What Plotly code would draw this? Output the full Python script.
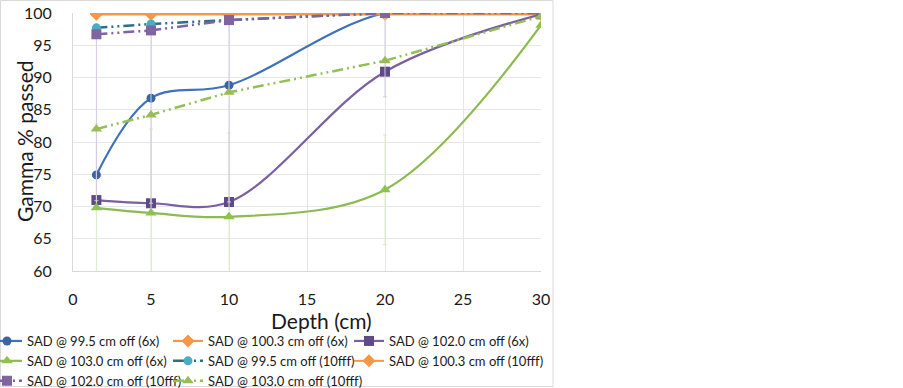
import plotly.graph_objects as go

depth = [1.5, 5, 10, 20, 30]

names = [
    "SAD @ 99.5 cm off (6x)",
    "SAD @ 100.3 cm off (6x)",
    "SAD @ 102.0 cm off (6x)",
    "SAD @ 103.0 cm off (6x)",
    "SAD @ 99.5 cm off (10fff)",
    "SAD @ 100.3 cm off (10fff)",
    "SAD @ 102.0 cm off (10fff)",
    "SAD @ 103.0 cm off (10fff)",
]

sad995_6x = [74.9, 86.8, 88.8, 100.0, 100.0]
sad1003_6x = [99.8, 99.8, 99.8, 99.8, 99.8]
sad1020_6x = [71.0, 70.5, 70.7, 90.9, 99.8]
sad1030_6x = [69.8, 69.0, 68.4, 72.6, 98.1]
sad995_10 = [97.7, 98.3, 98.9, 100.0, 100.0]
sad1003_10 = [99.9, 99.9, 99.9, 99.9, 99.9]
sad1020_10 = [96.7, 97.3, 98.9, 100.0, 100.0]
sad1030_10 = [82.0, 84.2, 87.7, 92.6, 99.5]

err_1030_6x = [13.0, 13.0, 13.0, 8.5, 0.0]
err_1020_10_minus = [25.8, 26.8, 28.2, 13.0, 0.0]
err_zero = [0, 0, 0, 0, 0]

x_title = "Depth (cm)"
y_title = "Gamma % passed"

FONT = "Lato"
TXT = "#1a1a1a"
ldash = "11px,4px,2px,4px,2px,4px"

# plot area in pixels
L, R, T, B = 73, 541, 13, 271
PW, PH = R - L, B - T

def px(xp):
    return (xp - L) / PW

def py(yp):
    return (B - yp) / PH

fig = go.Figure()

def add(name, y, line_color, marker_color, symbol, size, legend,
        dash="solid", shape="spline", width=2.2, err=None):
    tr = go.Scatter(
        x=depth, y=y, name=name, mode="lines+markers", legend=legend,
        line=dict(color=line_color, width=width, dash=dash, shape=shape, smoothing=1.0),
        marker=dict(color=marker_color, symbol=symbol, size=size),
    )
    if err is not None:
        tr.error_y = err
    fig.add_trace(tr)

add(names[0], sad995_6x, "#3F72B8", "#3A65A3", "circle", 9, "legend")
add(names[1], sad1003_6x, "#F79646", "#F79646", "diamond", 10, "legend2")
add(names[2], sad1020_6x, "#7A5FA3", "#5E4A86", "square", 10, "legend3")
add(names[3], sad1030_6x, "#8DBB4F", "#8DC24F", "triangle-up", 10, "legend",
    err=dict(type="data", symmetric=True, array=err_1030_6x,
             color="#DCEBC7", thickness=1, width=2))
add(names[4], sad995_10, "#2A6F8A", "#4BACC6", "circle", 9, "legend2",
    dash=ldash, shape="linear", width=2.5)
add(names[5], sad1003_10, "#F79646", "#F79646", "diamond", 10, "legend3",
    shape="linear", width=2.0)
add(names[6], sad1020_10, "#7F63A6", "#8064A2", "square", 10, "legend",
    dash=ldash, shape="linear", width=2.5,
    err=dict(type="data", symmetric=False, array=err_zero, arrayminus=err_1020_10_minus,
             color="#D3C8E2", thickness=1, width=2))
add(names[7], sad1030_10, "#93BF55", "#9BBB59", "triangle-up", 10, "legend2",
    dash=ldash, shape="linear", width=2.5)

leg_font = dict(family=FONT, size=13, color=TXT)
leg_y = py(326)

def leg(xpix):
    return dict(orientation="v", x=px(xpix), xanchor="left", y=leg_y, yanchor="top",
                font=leg_font, itemwidth=30, traceorder="normal",
                bgcolor="rgba(0,0,0,0)", borderwidth=0)

fig.update_layout(
    width=903, height=388,
    margin=dict(l=L, r=903 - R, t=T, b=388 - B, autoexpand=False),
    paper_bgcolor="white", plot_bgcolor="white",
    font=dict(family=FONT, color=TXT),
    showlegend=True,
    legend=leg(-13),
    legend2=leg(168),
    legend3=leg(349),
    xaxis=dict(
        range=[0, 30], dtick=5, tick0=0,
        showgrid=True, gridcolor="#E6E6E6", gridwidth=1,
        showline=True, linecolor="#D9D9D9", linewidth=1,
        zeroline=False, ticks="", ticklabelstandoff=14,
        tickfont=dict(family=FONT, size=16, color=TXT),
    ),
    yaxis=dict(
        range=[60, 100], dtick=5, tick0=60,
        showgrid=True, gridcolor="#E6E6E6", gridwidth=1,
        showline=True, linecolor="#D9D9D9", linewidth=1,
        zeroline=False, ticks="", ticklabelstandoff=17,
        tickfont=dict(family=FONT, size=16, color=TXT),
    ),
    annotations=[
        dict(text=x_title, xref="paper", yref="paper", x=px(321), y=py(320.5),
             xanchor="center", yanchor="middle", showarrow=False,
             font=dict(family=FONT, size=21, color=TXT)),
        dict(text=y_title, xref="paper", yref="paper", x=px(24), y=py(141),
             xanchor="center", yanchor="middle", showarrow=False, textangle=-90,
             font=dict(family=FONT, size=21, color=TXT)),
    ],
    shapes=[dict(type="rect", xref="paper", yref="paper",
                 x0=px(0.5), x1=px(553),
                 y0=py(386.5), y1=py(0.5),
                 line=dict(color="#D9D9D9", width=1), fillcolor="rgba(0,0,0,0)", layer="below")],
)

fig.write_html("out.html", config={"displayModeBar": False},
               post_script="document.body.style.margin='0px';")
